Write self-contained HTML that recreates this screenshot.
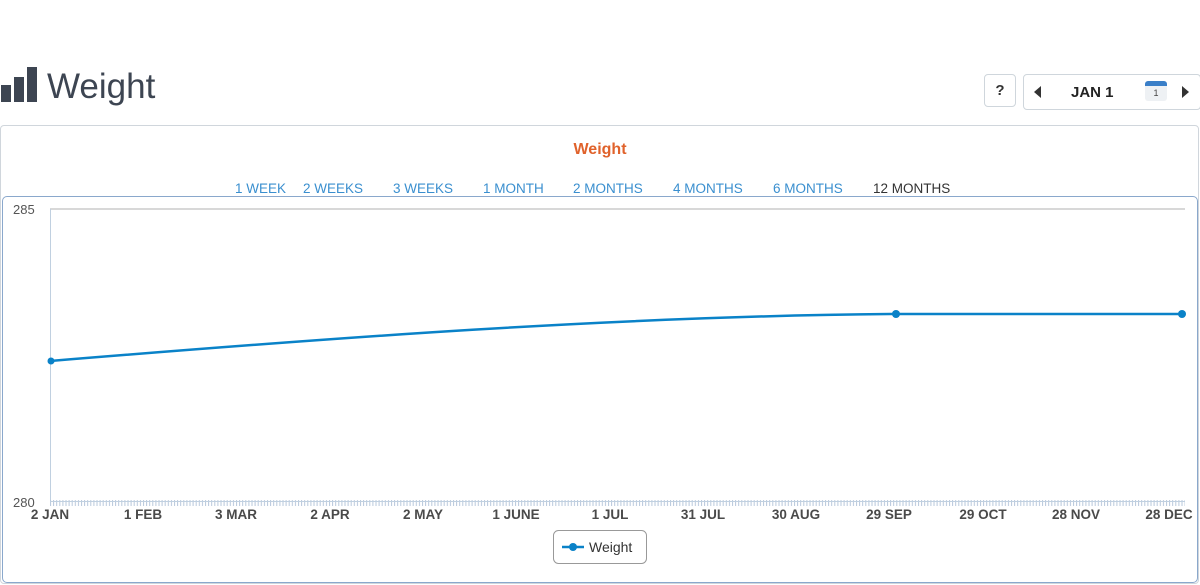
<!DOCTYPE html>
<html><head><meta charset="utf-8"><style>
body{margin:0;width:1200px;height:585px;background:#fff;font-family:"Liberation Sans",sans-serif;position:relative;overflow:hidden}
.abs{position:absolute}
.btn{position:absolute;border:1px solid #cfd6dc;border-radius:4px;background:#fff}
.rng{position:absolute;top:181px;font-size:13.5px;color:#3a8fcf}
</style></head><body>
<svg class="abs" style="left:0;top:65px" width="40" height="38"><rect x="1" y="20" width="10" height="17" fill="#3d4552"/><rect x="14" y="12" width="10" height="25" fill="#3d4552"/><rect x="27" y="2" width="10" height="35" fill="#3d4552"/></svg>
<div class="abs" style="left:47px;top:67px;font-size:35px;color:#3d4552">Weight</div>
<div class="btn" style="left:984px;top:74px;width:30px;height:31px;text-align:center;line-height:31px;font-weight:bold;font-size:15px;color:#333">?</div>
<div class="btn" style="left:1023px;top:74px;width:176px;height:34px">
<div class="abs" style="left:10px;top:11px;width:0;height:0;border-top:6px solid transparent;border-bottom:6px solid transparent;border-right:7px solid #333"></div>
<div class="abs" style="left:47px;top:9px;font-weight:bold;font-size:15px;color:#222">JAN 1</div>
<div class="abs" style="left:121px;top:6px;width:22px;height:20px;border-radius:3px;background:#eef1f4;border-top:5px solid #3a7fc8;box-sizing:border-box;font-size:9px;text-align:center;line-height:14px;color:#444">1</div>
<div class="abs" style="left:158px;top:11px;width:0;height:0;border-top:6px solid transparent;border-bottom:6px solid transparent;border-left:7px solid #333"></div>
</div>
<div class="abs" style="left:0;top:125px;width:1197px;height:457px;border:1px solid #d0d6dc;border-radius:4px"></div>
<div class="abs" style="left:0;top:141px;width:1200px;text-align:center;font-weight:bold;font-size:16px;color:#e0622b">Weight</div>
<div class="rng" style="left:235px">1 WEEK</div>
<div class="rng" style="left:303px">2 WEEKS</div>
<div class="rng" style="left:393px">3 WEEKS</div>
<div class="rng" style="left:483px">1 MONTH</div>
<div class="rng" style="left:573px">2 MONTHS</div>
<div class="rng" style="left:673px">4 MONTHS</div>
<div class="rng" style="left:773px">6 MONTHS</div>
<div class="rng" style="left:873px;color:#333">12 MONTHS</div>
<div class="abs" style="left:2px;top:196px;width:1194px;height:385px;border:1px solid #8aa8cc;border-radius:5px"></div>
<svg class="abs" style="left:0;top:0" width="1200" height="585">
<defs><pattern id="tk" x="50" y="0" width="3.1" height="10" patternUnits="userSpaceOnUse"><rect width="1" height="10" fill="#b8c8dc"/></pattern></defs>
<line x1="50" y1="209" x2="1185" y2="209" stroke="#ccc" stroke-width="1.5"/>
<line x1="50.5" y1="209" x2="50.5" y2="502" stroke="#c0d0e0"/>
<rect x="50" y="500" width="1135" height="6" fill="url(#tk)"/>
<line x1="50" y1="501.5" x2="1185" y2="501.5" stroke="#c0d0e0"/>
<g font-size="13" fill="#555"><text x="13" y="214">285</text><text x="13" y="507">280</text></g>
<g font-size="13.5" font-weight="bold" fill="#4a4a4a" text-anchor="middle">
<text x="50" y="519">2 JAN</text><text x="143" y="519">1 FEB</text><text x="236" y="519">3 MAR</text><text x="330" y="519">2 APR</text><text x="423" y="519">2 MAY</text><text x="516" y="519">1 JUNE</text><text x="610" y="519">1 JUL</text><text x="703" y="519">31 JUL</text><text x="796" y="519">30 AUG</text><text x="889" y="519">29 SEP</text><text x="983" y="519">29 OCT</text><text x="1076" y="519">28 NOV</text><text x="1169" y="519">28 DEC</text></g>
<path d="M50 361 C 330 338, 620 316, 896 314 L 1182 314" fill="none" stroke="#0a82c8" stroke-width="2.5"/>
<circle cx="51" cy="361" r="3.5" fill="#0a82c8"/><circle cx="896" cy="314" r="4" fill="#0a82c8"/><circle cx="1182" cy="314" r="4" fill="#0a82c8"/>
<rect x="553.5" y="530.5" width="93" height="33" rx="5" fill="#fff" stroke="#999"/>
<line x1="562" y1="547" x2="584" y2="547" stroke="#0a82c8" stroke-width="2.5"/><circle cx="573" cy="547" r="4" fill="#0a82c8"/>
<text x="589" y="552" font-size="14" fill="#333">Weight</text>
</svg>
</body></html>
